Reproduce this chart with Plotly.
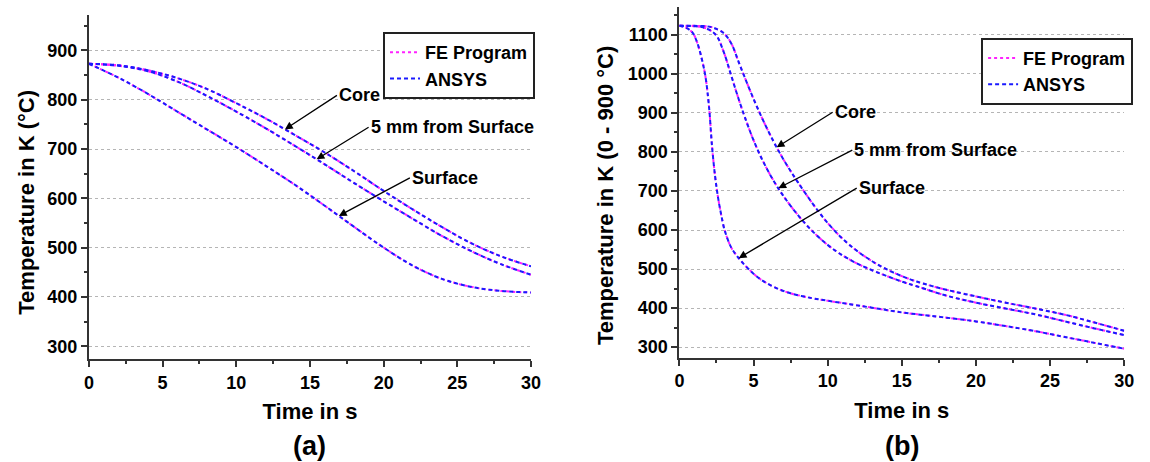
import numpy as np
import plotly.graph_objects as go

FONT = "Liberation Sans, Arial, sans-serif"

# ---- Panel (a): quench from 600 °C (873 K) ----
time_a = [0, 2, 4, 6, 8, 10, 12, 14, 16, 18, 20, 22, 24, 26, 28, 30]
core_a = [873, 870, 860, 844, 822, 793, 762, 728, 693, 655, 615, 577, 541, 508, 482, 462]
mid_a = [873, 869, 858, 837, 808, 776, 742, 706, 669, 631, 594, 558, 523, 492, 466, 445]
surface_a = [873, 845, 812, 776, 740, 704, 666, 627, 585, 542, 500, 463, 436, 420, 412, 409]

# ---- Panel (b): quench from 850 °C (1123 K) ----
time_core_b = [0, 1, 2, 2.5, 3, 3.5, 4, 4.5, 5, 5.5, 6, 6.5, 7, 7.5, 8, 9, 10, 11, 12,
               13, 14, 15, 16, 17, 18, 20, 22, 24, 26, 28, 30]
core_b = [1123, 1123, 1121, 1115, 1104, 1078, 1030, 982, 936, 893, 853, 816, 782, 751, 722,
          667, 618, 578, 546, 520, 499, 482, 468, 457, 447, 430, 414, 399, 383, 363, 342]
time_mid_b = [0, 1, 1.5, 2, 2.5, 3, 3.5, 4, 4.5, 5, 5.5, 6, 6.5, 7, 8, 9, 10, 11, 12, 13,
              14, 15, 16, 18, 20, 22, 24, 26, 28, 30]
mid_b = [1123, 1122, 1120, 1113, 1098, 1055, 995, 935, 880, 830, 787, 750, 717, 688, 638,
         596, 562, 535, 514, 497, 482, 468, 456, 432, 414, 399, 384, 366, 348, 331]
time_surface_b = [0, 0.5, 0.9, 1.2, 1.5, 1.75, 2.0, 2.2, 2.4, 2.6, 2.8, 3.05, 3.5, 4.0, 4.67,
                  5.5, 6.5, 7.5, 9, 10, 11.5, 13, 15, 17, 19, 20, 22, 24, 26, 28, 30]
surface_b = [1123, 1117, 1105, 1080, 1040, 995, 915, 815, 740, 685, 643, 600, 555, 528, 500,
             473, 452, 438, 425, 419, 410, 401, 389, 380, 371, 366, 354, 341, 326, 311, 296]

series_names = ["FE Program", "ANSYS"]
series_colors = ["#ff22ff", "#1a1aff"]
series_dash = ["dot", "4px,3px"]
series_width = [2, 2]

panels = [
    dict(x="x", y="y", legend="legend",
         curves=[(time_a, core_a), (time_a, mid_a), (time_a, surface_a)]),
    dict(x="x2", y="y2", legend="legend2",
         curves=[(time_core_b, core_b), (time_mid_b, mid_b), (time_surface_b, surface_b)]),
]

fig = go.Figure()
for p in panels:
    for k, name in enumerate(series_names):
        for j, (t, v) in enumerate(p["curves"]):
            fig.add_trace(go.Scatter(
                x=t, y=v, mode="lines", name=name,
                xaxis=p["x"], yaxis=p["y"], legend=p["legend"],
                legendgroup=p["legend"] + name, showlegend=(j == 0),
                line=dict(color=series_colors[k], dash=series_dash[k],
                          width=series_width[k], shape="spline", smoothing=1.0),
                hoverinfo="skip",
            ))

tick_font = dict(family=FONT, size=18, color="black", weight="bold")
title_font = dict(family=FONT, size=22, color="black", weight="bold")

common = dict(showline=True, linecolor="#333333", linewidth=2, ticks="outside",
              ticklen=6, tickwidth=1.5, tickcolor="#333333", tickfont=tick_font,
              zeroline=False, mirror=False)
x_style = dict(common, range=[0, 30], tick0=0, dtick=5, showgrid=False,
               minor=dict(dtick=2.5, ticks="outside", ticklen=3, tickcolor="#333333",
                          tickwidth=1.5, showgrid=False),
               title=dict(text="Time in s", font=title_font, standoff=12))
y_style = dict(common, tick0=0, dtick=100, showgrid=True, gridcolor="#b5b5b5",
               griddash="dot", gridwidth=1,
               minor=dict(dtick=50, ticks="outside", ticklen=3, tickcolor="#333333",
                          tickwidth=1.5, showgrid=False))

W, H = 1150, 462
legend_style = dict(xanchor="left", yanchor="top", bordercolor="#222222", borderwidth=2,
                    bgcolor="white", tracegroupgap=0,
                    font=dict(family=FONT, size=18, color="black", weight="bold"))
fig.update_layout(
    width=W, height=H,
    margin=dict(l=0, r=0, t=0, b=0),
    paper_bgcolor="white", plot_bgcolor="white",
    xaxis=dict(x_style, domain=[85 / W, 533 / W], anchor="y"),
    yaxis=dict(y_style, domain=[1 - 359 / H, 1 - 15 / H], anchor="x", range=[274, 972]),
    xaxis2=dict(x_style, domain=[683.3 / W, 1134 / W], anchor="y2"),
    yaxis2=dict(y_style, domain=[1 - 357.7 / H, 1 - 6.7 / H], anchor="x2", range=[273, 1172]),
    legend=dict(legend_style, x=383 / W, y=1 - 32 / H),
    legend2=dict(legend_style, x=989 / W, y=1 - 37.7 / H),
    showlegend=True,
)

# Vertical axis titles
for text, xc, yc in [("Temperature in K (°C)", 22, 202),
                     ("Temperature in K (0 - 900 °C)", 608, 196)]:
    fig.add_annotation(
        xref="paper", yref="paper", x=xc / W, y=1 - yc / H, text=text, textangle=-90,
        showarrow=False, xanchor="center", yanchor="middle", font=title_font,
    )

# Curve labels with arrows pointing at the curves
labels = [
    ("x", "y", "Core", 13.3, time_a, core_a, 52, -34),
    ("x", "y", "5 mm from Surface", 15.45, time_a, mid_a, 52, -32),
    ("x", "y", "Surface", 16.96, time_a, surface_a, 71, -38),
    ("x2", "y2", "Core", 6.56, time_core_b, core_b, 56, -35),
    ("x2", "y2", "5 mm from Surface", 6.67, time_mid_b, mid_b, 74, -38),
    ("x2", "y2", "Surface", 4.0, time_surface_b, surface_b, 118, -70),
]
for xr, yr, text, t_at, t, v, ax, ay in labels:
    fig.add_annotation(
        xref=xr, yref=yr, x=t_at, y=float(np.interp(t_at, t, v)),
        ax=ax, ay=ay, text=text, showarrow=True,
        arrowhead=2, arrowsize=1.2, arrowwidth=1.3, arrowcolor="black",
        xanchor="left", yanchor="middle",
        font=dict(family=FONT, size=18, color="black", weight="bold"),
    )

# Panel captions
for text, dom in [("(a)", (85, 533)), ("(b)", (683.3, 1134))]:
    fig.add_annotation(
        xref="paper", yref="paper", x=(dom[0] + dom[1]) / 2 / W, y=1 - 446 / H,
        text=text, showarrow=False, xanchor="center", yanchor="middle",
        font=dict(family=FONT, size=27, color="black", weight="bold"),
    )

fig.write_html("out.html")
